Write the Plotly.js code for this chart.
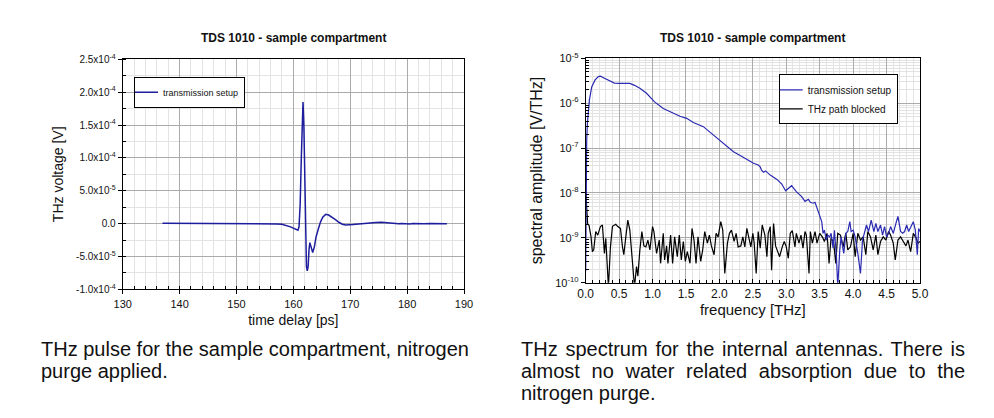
<!DOCTYPE html>
<html>
<head>
<meta charset="utf-8">
<script src="https://cdn.plot.ly/plotly-3.0.1.min.js"></script>
<style>
    body { margin: 0; background: #fff; }
    #chart { position: absolute; left: 0; top: 0; width: 994px; height: 418px; }
    .caption { position: absolute; z-index: 5; font-family: 'Liberation Sans', Arial, sans-serif;
               font-size: 20px; line-height: 22px; color: #111; }
    #cap1 { left: 41px; top: 338px; width: 440px; }
    #cap2 { left: 521px; top: 338px; width: 444px; text-align: justify; }
</style>
</head>
<body>
<div id="chart"></div>
<div class="caption" id="cap1">THz pulse for the sample compartment, nitrogen purge applied.</div>
<div class="caption" id="cap2">THz spectrum for the internal antennas. There is almost no water related absorption due to the nitrogen purge.</div>
<script>
// left panel: THz pulse (time delay in ps, voltage in V)
var pulseTime = [137, 140, 145, 150, 153, 155, 156, 157, 158, 158.5, 159, 159.5, 160, 160.4, 160.8,
    161.0, 161.2, 161.4, 161.55, 161.7, 161.85, 162.0, 162.15, 162.3, 162.45, 162.6, 162.75, 162.9,
    163.1, 163.4, 163.7, 164.0, 164.4, 164.8, 165.2, 165.7, 166.2, 166.8, 167.4, 168.0, 168.6, 169.2,
    169.8, 170.5, 171.5, 172.5, 173.5, 174.5, 175.5, 176.5, 177, 177.5, 178, 178.5, 179, 179.5, 180,
    180.5, 181, 181.5, 182, 183, 184, 185, 186, 187];
var pulseVoltage = [5e-7, 5e-7, 4e-7, 3e-7, 2e-7, 0, 0, -5e-7, -1e-6, -2e-6, -3e-6, -5e-6, -7e-6, -9e-6, -1.0e-5,
    -5e-6, 3e-5, 1.0e-4, 1.6e-4, 1.85e-4, 1.5e-4, 5e-5, -3e-5, -6.5e-5, -7.2e-5, -6.5e-5, -4e-5, -2.9e-5,
    -3.5e-5, -4.4e-5, -3.5e-5, -2e-5, -8e-6, 3e-6, 1.0e-5, 1.4e-5, 1.3e-5, 1.0e-5, 6e-6, 2e-6, -1e-6, -2e-6,
    -2e-6, -1.5e-6, -5e-7, 5e-7, 1e-6, 1.5e-6, 2e-6, 1.2e-6, 1e-6, 2e-7, 6e-7, -3e-7, 3e-7, -3e-7, 2e-7,
    -5e-7, 0, -3e-7, 2e-7, -3e-7, 0, -2e-7, -3e-7, -3e-7];
var pulseTickVals = [-1e-4, -5e-5, 0, 5e-5, 1e-4, 1.5e-4, 2e-4, 2.5e-4];
var pulseTickText = ['-1.0x10<sup>-4</sup>', '-5.0x10<sup>-5</sup>', '0.0', '5.0x10<sup>-5</sup>',
    '1.0x10<sup>-4</sup>', '1.5x10<sup>-4</sup>', '2.0x10<sup>-4</sup>', '2.5x10<sup>-4</sup>'];

// right panel: spectra (frequency in THz, amplitude in V/THz)
var setupFreq = [0, 0.005, 0.015, 0.025, 0.055, 0.09, 0.14, 0.19, 0.22, 0.28, 0.36, 0.43, 0.51, 0.66,
    0.73, 0.81, 0.91, 1.03, 1.16, 1.26, 1.41, 1.51, 1.61, 1.76, 1.91, 2.06, 2.21, 2.31, 2.41, 2.51, 2.58,
    2.61, 2.63, 2.66, 2.69, 2.72, 2.76, 2.86, 2.93, 2.99, 3.03, 3.08, 3.15, 3.23, 3.28, 3.33, 3.36, 3.40,
    3.43, 3.46, 3.48, 3.53, 3.55, 3.57, 3.60, 3.62, 3.65, 3.67, 3.70, 3.72, 3.75, 3.77, 3.80, 3.82, 3.85,
    3.86, 3.89, 3.92, 3.95, 3.97, 4.00, 4.03, 4.07, 4.11, 4.14, 4.17, 4.20, 4.23, 4.27, 4.31, 4.34, 4.37,
    4.41, 4.44, 4.47, 4.50, 4.53, 4.56, 4.60, 4.64, 4.67, 4.71, 4.74, 4.77, 4.80, 4.83, 4.87, 4.90, 4.93,
    4.96, 4.98, 5.00];
var setupAmp = [1.8e-10, 5.4e-8, 1.5e-7, 3.5e-7, 1.17e-6, 2.3e-6, 3.3e-6, 3.9e-6, 4.0e-6, 3.6e-6, 3.1e-6,
    2.8e-6, 2.75e-6, 2.75e-6, 2.5e-6, 2.15e-6, 1.66e-6, 1.07e-6, 7.6e-7, 6.5e-7, 5.1e-7, 4.6e-7, 3.7e-7,
    3.0e-7, 1.95e-7, 1.29e-7, 8.3e-8, 6.8e-8, 5.6e-8, 4.6e-8, 4.2e-8, 3.8e-8, 3.2e-8, 2.9e-8, 3.1e-8,
    2.8e-8, 2.5e-8, 2.0e-8, 1.6e-8, 1.12e-8, 1.25e-8, 1.45e-8, 1.07e-8, 8.3e-9, 6.5e-9, 7.2e-9, 6.2e-9,
    5.9e-9, 6.2e-9, 4.5e-9, 3.5e-9, 2.3e-9, 1.26e-9, 1.48e-9, 0.89e-9, 1.15e-9, 1.05e-9, 1.26e-9, 0.59e-9,
    1.48e-9, 0.38e-9, 0.08e-9, 0.54e-9, 1.05e-9, 0.54e-9, 0.45e-9, 1.26e-9, 1.38e-9, 2.29e-9, 1.38e-9,
    1.48e-9, 1.05e-9, 0.45e-9, 0.16e-9, 0.89e-9, 1.38e-9, 1.93e-9, 1.38e-9, 2.48e-9, 1.38e-9, 2.09e-9,
    1.38e-9, 1.93e-9, 1.15e-9, 1.78e-9, 1.05e-9, 1.26e-9, 1.78e-9, 1.26e-9, 2.09e-9, 3.0e-9, 1.38e-9,
    1.26e-9, 1.38e-9, 1.93e-9, 1.38e-9, 1.78e-9, 2.29e-9, 1.48e-9, 0.42e-9, 1.62e-9, 1.38e-9];

var blockedFreq = [0, 0.01, 0.02, 0.03, 0.05, 0.08, 0.10, 0.12, 0.15, 0.18, 0.22, 0.25, 0.28, 0.30, 0.34,
    0.37, 0.40, 0.45, 0.48, 0.52, 0.55, 0.57, 0.60, 0.63, 0.66, 0.68, 0.71, 0.73, 0.76, 0.78, 0.81, 0.84,
    0.87, 0.90, 0.93, 0.96, 1.00, 1.02, 1.06, 1.10, 1.12, 1.16, 1.18, 1.21, 1.23, 1.27, 1.30, 1.33, 1.37,
    1.40, 1.43, 1.46, 1.49, 1.52, 1.56, 1.59, 1.62, 1.65, 1.68, 1.72, 1.75, 1.78, 1.82, 1.85, 1.88, 1.92,
    1.95, 1.98, 2.02, 2.05, 2.08, 2.12, 2.15, 2.18, 2.22, 2.25, 2.28, 2.32, 2.35, 2.38, 2.41, 2.44, 2.47,
    2.50, 2.52, 2.55, 2.58, 2.61, 2.64, 2.68, 2.71, 2.73, 2.76, 2.78, 2.81, 2.84, 2.88, 2.90, 2.94, 2.97,
    3.00, 3.03, 3.06, 3.09, 3.13, 3.15, 3.19, 3.22, 3.25, 3.28, 3.30, 3.34, 3.36, 3.39, 3.43, 3.46, 3.50,
    3.54, 3.57, 3.61, 3.64, 3.67, 3.71, 3.74, 3.77, 3.81, 3.85, 3.89, 3.92, 3.96, 4.00, 4.03, 4.07, 4.11,
    4.15, 4.19, 4.22, 4.26, 4.30, 4.34, 4.37, 4.41, 4.45, 4.49, 4.53, 4.56, 4.60, 4.63, 4.67, 4.71, 4.75,
    4.79, 4.82, 4.86, 4.90, 4.94, 4.97, 5.00];
var blockedAmp = [1.1e-8, 7e-9, 3.5e-9, 2.0e-9, 1.9e-9, 1.05e-9, 0.49e-9, 0.54e-9, 1.38e-9, 1.15e-9,
    1.78e-9, 1.93e-9, 0.45e-9, 0.98e-9, 0.08e-9, 0.63e-9, 1.8e-9, 2.0e-9, 1.78e-9, 1.62e-9, 0.63e-9,
    0.42e-9, 1.05e-9, 2.48e-9, 1.48e-9, 0.63e-9, 0.27e-9, 0.08e-9, 0.23e-9, 0.14e-9, 0.54e-9, 1.38e-9,
    0.66e-9, 0.63e-9, 0.89e-9, 0.54e-9, 1.78e-9, 1.38e-9, 0.45e-9, 0.89e-9, 0.27e-9, 1.26e-9, 0.32e-9,
    0.66e-9, 0.27e-9, 1.15e-9, 0.27e-9, 1.05e-9, 0.38e-9, 1.15e-9, 0.32e-9, 0.83e-9, 0.30e-9, 0.49e-9,
    0.27e-9, 1.62e-9, 0.89e-9, 0.27e-9, 1.05e-9, 0.30e-9, 0.54e-9, 1.38e-9, 0.76e-9, 1.15e-9, 0.66e-9,
    0.42e-9, 1.26e-9, 1.05e-9, 2.29e-9, 1.48e-9, 0.16e-9, 0.76e-9, 1.26e-9, 1.48e-9, 0.83e-9, 1.26e-9,
    0.63e-9, 0.66e-9, 1.05e-9, 0.63e-9, 1.62e-9, 1.05e-9, 0.63e-9, 1.26e-9, 0.76e-9, 0.16e-9, 1.38e-9,
    0.59e-9, 1.93e-9, 1.15e-9, 0.38e-9, 1.26e-9, 1.78e-9, 0.19e-9, 2.09e-9, 0.66e-9, 0.45e-9, 0.38e-9,
    0.63e-9, 0.83e-9, 0.63e-9, 0.35e-9, 1.26e-9, 1.45e-9, 0.63e-9, 1.26e-9, 0.76e-9, 1.15e-9, 0.59e-9,
    1.38e-9, 1.15e-9, 0.16e-9, 1.38e-9, 0.76e-9, 1.38e-9, 0.76e-9, 1.26e-9, 1.05e-9, 0.83e-9, 1.26e-9,
    0.27e-9, 1.0e-9, 0.76e-9, 0.27e-9, 1.26e-9, 1.15e-9, 0.63e-9, 1.26e-9, 0.54e-9, 0.63e-9, 1.26e-9,
    0.38e-9, 1.26e-9, 0.89e-9, 1.05e-9, 0.42e-9, 1.38e-9, 1.05e-9, 0.54e-9, 1.15e-9, 0.42e-9, 0.83e-9,
    1.05e-9, 0.89e-9, 1.38e-9, 1.15e-9, 0.76e-9, 0.32e-9, 0.89e-9, 1.05e-9, 0.83e-9, 0.66e-9, 0.89e-9,
    0.49e-9, 1.26e-9, 1.0e-9, 0.76e-9, 0.83e-9];

var specTickVals = [1e-10, 1e-9, 1e-8, 1e-7, 1e-6, 1e-5];
var specTickText = ['10<sup>-10</sup>', '10<sup>-9</sup>', '10<sup>-8</sup>', '10<sup>-7</sup>',
    '10<sup>-6</sup>', '10<sup>-5</sup>'];
var freqTickVals = [0, 0.5, 1, 1.5, 2, 2.5, 3, 3.5, 4, 4.5, 5];
var freqTickText = ['0.0', '0.5', '1.0', '1.5', '2.0', '2.5', '3.0', '3.5', '4.0', '4.5', '5.0'];

var W = 994, H = 418;
var FONT = "'Liberation Sans', Arial, sans-serif";
var titleText = '<b>TDS 1010 - sample compartment</b>';

function linearTicks(start, stop, step) {
    var vals = [];
    for (var i = 0; start + i * step <= stop + step / 2; i++) {
        vals.push(+(start + i * step).toPrecision(10));
    }
    return vals;
}

function logTicks(lo, hi) {
    var vals = [];
    for (var d = lo; d < hi; d++) {
        for (var m = 2; m < 10; m++) vals.push(m * Math.pow(10, d));
    }
    return vals;
}

// Origin-like boxed axis with major and minor grid
function boxAxis(opts) {
    var ax = {
        showline: true, linecolor: '#000', linewidth: 1, mirror: true,
        zeroline: false, showgrid: true, gridcolor: '#ababab', gridwidth: 1,
        ticks: 'outside', ticklen: 4, tickcolor: '#000',
        tickfont: {family: FONT, size: 11, color: '#111'},
        minor: {
            tickmode: 'array', tickvals: opts.minorVals,
            ticks: 'inside', ticklen: 3, tickcolor: '#000',
            showgrid: true, gridcolor: '#e3e3e3', gridwidth: 1
        },
        fixedrange: true
    };
    for (var k in opts) {
        if (k !== 'minorVals') ax[k] = opts[k];
    }
    return ax;
}

var data = [
    {
        x: pulseTime, y: pulseVoltage, xaxis: 'x', yaxis: 'y',
        type: 'scatter', mode: 'lines', name: 'transmission setup',
        line: {color: '#1d1d9e', width: 1.5}, legend: 'legend'
    },
    {
        x: blockedFreq, y: blockedAmp, xaxis: 'x2', yaxis: 'y2',
        type: 'scatter', mode: 'lines', name: 'THz path blocked',
        line: {color: '#000', width: 1.2}, legend: 'legend2', legendrank: 2
    },
    {
        x: setupFreq, y: setupAmp, xaxis: 'x2', yaxis: 'y2',
        type: 'scatter', mode: 'lines', name: 'transmission setup',
        line: {color: '#2a2ab2', width: 1.2}, legend: 'legend2', legendrank: 1
    }
];

var layout = {
    width: W, height: H,
    margin: {l: 0, r: 0, t: 0, b: 0},
    paper_bgcolor: '#fff', plot_bgcolor: '#fff',
    showlegend: true,
    font: {family: FONT, color: '#111'},

    xaxis: boxAxis({
        domain: [122.7 / W, 464 / W], anchor: 'y', range: [130, 190],
        tickmode: 'linear', tick0: 130, dtick: 10,
        minorVals: linearTicks(130, 190, 2),
        title: {text: 'time delay [ps]', font: {family: FONT, size: 14}, standoff: 6}
    }),
    yaxis: boxAxis({
        domain: [1 - 289.3 / H, 1 - 59.3 / H], anchor: 'x', range: [-1e-4, 2.5e-4],
        tickmode: 'array', tickvals: pulseTickVals, ticktext: pulseTickText,
        tickfont: {family: FONT, size: 10, color: '#111'},
        minorVals: linearTicks(-1e-4, 2.5e-4, 2.5e-5),
        title: {text: 'THz voltage [V]', font: {family: FONT, size: 14}, standoff: 9}
    }),
    xaxis2: boxAxis({
        domain: [585.7 / W, 920 / W], anchor: 'y2', range: [0, 5],
        tickmode: 'array', tickvals: freqTickVals, ticktext: freqTickText,
        tickfont: {family: FONT, size: 12, color: '#111'}, ticks: 'inside',
        minorVals: linearTicks(0, 5, 0.1),
        title: {text: 'frequency [THz]', font: {family: FONT, size: 15}, standoff: 3}
    }),
    yaxis2: boxAxis({
        domain: [1 - 282.7 / H, 1 - 58.3 / H], anchor: 'x2', type: 'log', range: [-10, -5],
        tickmode: 'array', tickvals: specTickVals, ticktext: specTickText,
        minorVals: logTicks(-10, -5),
        title: {text: 'spectral amplitude [V/THz]', font: {family: FONT, size: 16}, standoff: 8}
    }),

    legend: {
        x: 134 / W, y: 1 - 76.7 / H, xanchor: 'left', yanchor: 'top', indentation: -12,
        bgcolor: '#fff', bordercolor: '#000', borderwidth: 1,
        font: {family: FONT, size: 9, color: '#111'}, itemclick: false, itemdoubleclick: false
    },
    legend2: {
        x: 897.7 / W, y: 1 - 74.3 / H, xanchor: 'right', yanchor: 'top', indentation: -12,
        bgcolor: '#fff', bordercolor: '#000', borderwidth: 1, tracegroupgap: 0,
        font: {family: FONT, size: 10, color: '#111'}, itemclick: false, itemdoubleclick: false
    },

    annotations: [
        {text: titleText, xref: 'x domain', yref: 'y domain', x: 0.5, y: 1 + 21 / 230,
         xanchor: 'center', yanchor: 'middle', showarrow: false, font: {family: FONT, size: 12, color: '#111'}},
        {text: titleText, xref: 'x2 domain', yref: 'y2 domain', x: 0.5, y: 1 + 20 / 224.4,
         xanchor: 'center', yanchor: 'middle', showarrow: false, font: {family: FONT, size: 12, color: '#111'}}
    ]
};

Plotly.newPlot('chart', data, layout, {staticPlot: true, displayModeBar: false});
</script>
</body>
</html>
